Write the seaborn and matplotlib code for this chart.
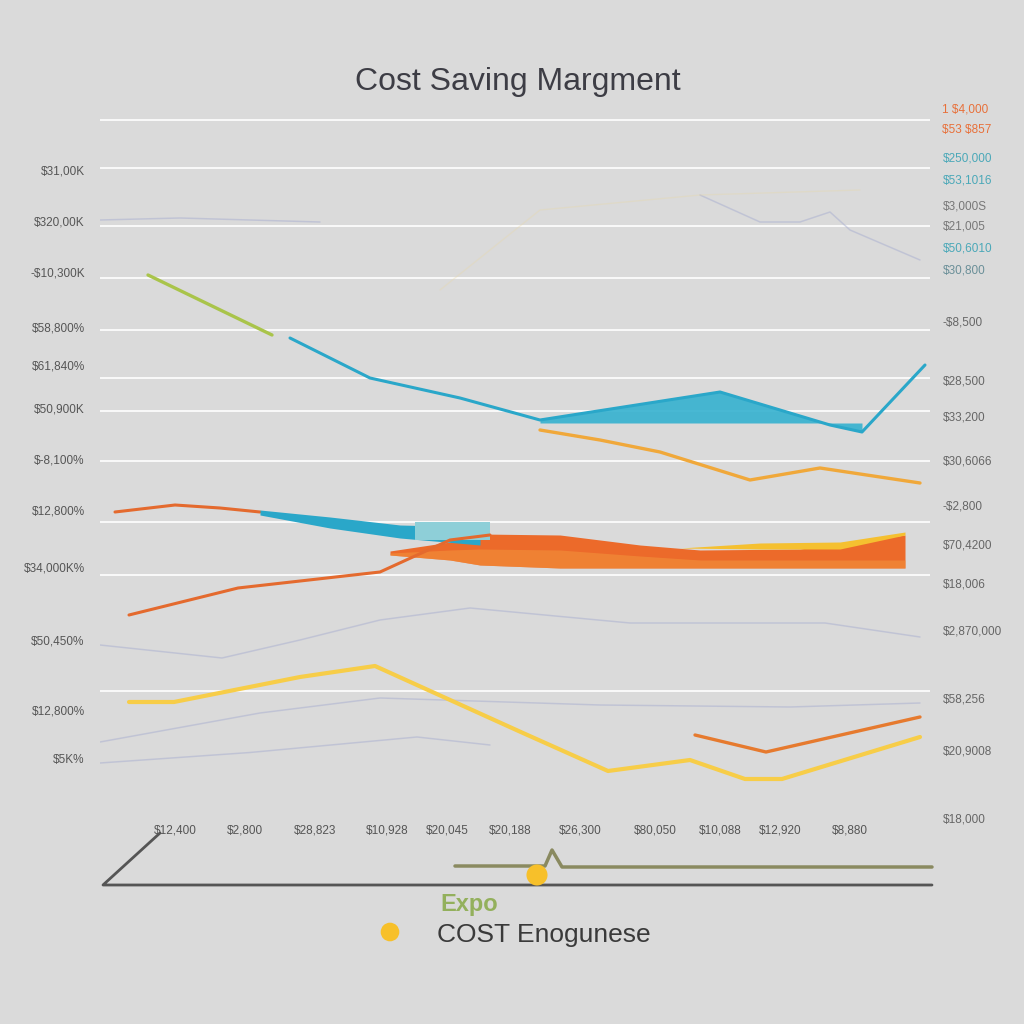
import numpy as np
import pandas as pd
import matplotlib
matplotlib.use("Agg")
import matplotlib.pyplot as plt
import seaborn as sns

# --- data ---
title = "Cost Saving Margment"

green_x = [4.8, 17.2]
green_y = [109, 97]

teal_x = [19, 27, 36, 44, 62, 73, 76.2, 82.5]
teal_y = [96.4, 88.4, 84.4, 80, 85.6, 79, 77.6, 91]
teal_fill_x = [44, 62, 73, 76.2]
teal_fill_top = [80, 85.6, 79, 77.6]
teal_fill_base = 79.4

amber_x = [44, 50, 56, 65, 72, 82]
amber_y = [78, 76, 73.6, 68, 70.4, 67.4]

orange_top_x = [1.5, 7.5, 12, 16]
orange_top_y = [61.6, 63, 62.4, 61.6]

teal_band_x = [16, 23, 30, 38]
teal_band_top = [62, 60.6, 59, 58.6]
teal_band_bot = [61, 58.4, 56.4, 55]
teal_box_x = [31.5, 39]
teal_box_top = [59.6, 59.6]
teal_box_bot = [56, 56]

band_x = [29, 35, 38, 46, 54, 60, 70, 80.5]
band_top = [53.8, 55.6, 57.2, 57, 55, 54, 54.2, 57]
band_mid = [53.4, 54, 54.2, 54, 52.8, 52, 52, 52]
band_bot = [53, 52, 51, 50.4, 50.4, 50.4, 50.4, 50.4]
gold_x = [58, 66, 74, 80.5]
gold_top = [54.4, 55.4, 55.6, 57.6]
gold_bot = [54.4, 54.2, 54.2, 57]

orange_low_x = [2.9, 13.8, 28, 35, 39]
orange_low_y = [41, 46.4, 49.6, 56, 57]

yellow_x = [2.9, 7.4, 20, 27.5, 42.3, 50.8, 59, 64.5, 68.2, 82]
yellow_y = [23.6, 23.6, 28.6, 30.8, 17.4, 9.8, 12, 8.2, 8.2, 16.6]

orange_short_x = [59.5, 66.6, 82]
orange_short_y = [17, 13.6, 20.6]

faint_a_x = [0, 12.2, 20, 28, 37, 53, 72.5, 82]
faint_a_y = [35, 32.4, 36, 40, 42.4, 39.4, 39.4, 36.6]
faint_b_x = [0, 16, 28, 50, 69, 82]
faint_b_y = [15.6, 21.4, 24.4, 23, 22.6, 23.4]
faint_c_x = [0, 15, 31.7, 39]
faint_c_y = [11.4, 13.5, 16.6, 15]
faint_d_x = [0, 8, 22]
faint_d_y = [120, 120.4, 119.6]
faint_e_x = [60, 66, 70, 73, 75, 82]
faint_e_y = [125, 119.6, 119.6, 121.6, 118, 112]
faint_f_x = [34, 44, 60, 76]
faint_f_y = [106, 122, 125, 126]

grid_y = [140, 130.4, 118.8, 108.4, 98, 88.4, 81.8, 71.8, 59.6, 49, 25.8]

left_ticks = [130, 119.8, 109.6, 98.6, 91, 82.4, 72.2, 62, 50.6, 36, 22, 12.4, 0]
left_labels = ["\\$31,00K", "\\$320,00K", "-\\$10,300K", "\\$58,800%", "\\$61,840%",
               "\\$50,900K", "\\$-8,100%", "\\$12,800%", "\\$34,000K%", "\\$50,450%",
               "\\$12,800%", "\\$5K%", ""]

right_ticks = [142.4, 138.2, 132.6, 128.2, 123, 119, 114.6, 110.2, 99.8, 88,
               80.8, 72, 63, 55.2, 47.4, 38, 24.4, 14, 0.4]
right_labels = ["1 \\$4,000", "\\$53 \\$857", "\\$250,000", "\\$53,1016", "\\$3,000S",
                "\\$21,005", "\\$50,6010", "\\$30,800", "-\\$8,500", "\\$28,500",
                "\\$33,200", "\\$30,6066", "-\\$2,800", "\\$70,4200", "\\$18,006",
                "\\$2,870,000", "\\$58,256", "\\$20,9008", "\\$18,000"]
right_colors = ["#e8703a", "#e8703a", "#4aa8b8", "#4aa8b8", "#777777",
                "#777777", "#4aa8b8", "#6a8f98"] + ["#666666"] * 11

bottom_ticks = [7.5, 14.5, 21.5, 28.7, 34.7, 41, 48, 55.5, 62, 68, 75]
bottom_labels = ["\\$12,400", "\\$2,800", "\\$28,823", "\\$10,928", "\\$20,045",
                 "\\$20,188", "\\$26,300", "\\$80,050", "\\$10,088", "\\$12,920", "\\$8,880"]

# decoration below the chart (figure pixel space)
base_px = [160, 103, 932]
base_py = [833, 885, 885]
olive_px = [455, 545, 552, 562, 932]
olive_py = [866, 866, 850, 867, 867]

sns.set_style("white")
plt.rcParams["font.family"] = ["Liberation Sans", "DejaVu Sans"]

bg = "#dadada"
fig = plt.figure(figsize=(10.24, 10.24), dpi=100, facecolor=bg)
ax = fig.add_axes([100 / 1024, 204 / 1024, 830 / 1024, 725 / 1024])
ax.set_facecolor("none")
ax.set_xlim(0, 83)
ax.set_ylim(0, 145)
sns.despine(ax=ax, left=True, bottom=True)

for g in grid_y:
    ax.axhline(g, color="white", lw=1.3, alpha=0.9, zorder=0)

def line(x, y, color, lw=2.2, alpha=1.0, z=3):
    sns.lineplot(x=x, y=y, ax=ax, color=color, lw=lw, alpha=alpha,
                 sort=False, estimator=None, zorder=z)

# faint background lines
faint = "#a8aed0"
for fx, fy in [(faint_a_x, faint_a_y), (faint_b_x, faint_b_y), (faint_c_x, faint_c_y),
               (faint_d_x, faint_d_y), (faint_e_x, faint_e_y)]:
    line(fx, fy, faint, lw=1.1, alpha=0.5, z=1)
line(faint_f_x, faint_f_y, "#e8d8a8", lw=1.0, alpha=0.35, z=1)

# upper series
line(green_x, green_y, "#a9c44a", lw=2.4)
line(teal_x, teal_y, "#2aa7c9", lw=2.2)
ax.fill_between(teal_fill_x, teal_fill_top, teal_fill_base, color="#35b1cf", alpha=0.9, lw=0, zorder=2)
line(amber_x, amber_y, "#f0a83a", lw=2.4)

# middle band
line(orange_top_x, orange_top_y, "#e46a2e", lw=2.2)
ax.fill_between(teal_band_x, teal_band_top, teal_band_bot, color="#2aa7c9", lw=0, zorder=3)
ax.fill_between(teal_box_x, teal_box_top, teal_box_bot, color="#8ecfd8", lw=0, zorder=3)
ax.fill_between(band_x, band_top, band_bot, color="#ec6a2a", lw=0, zorder=2)
ax.fill_between(band_x, band_mid, band_bot, color="#f2913a", alpha=0.6, lw=0, zorder=2)
ax.fill_between(gold_x, gold_top, gold_bot, color="#f5c030", lw=0, zorder=2)
line(orange_low_x, orange_low_y, "#e46a2e", lw=2.2)

# lower series
line(yellow_x, yellow_y, "#f7cd48", lw=3.0)
line(orange_short_x, orange_short_y, "#e67a2e", lw=2.4)

ax.set_xlabel("")
ax.set_ylabel("")
ax.set_yticks(left_ticks)
ax.set_yticklabels(left_labels, fontsize=8.5, color="#555555")
ax.set_xticks(bottom_ticks)
ax.set_xticklabels(bottom_labels, fontsize=8.5, color="#555555")
ax.tick_params(axis="both", length=0)
ax.tick_params(axis="y", pad=11)
ax.tick_params(axis="x", pad=3)

ax2 = ax.twinx()
ax2.set_ylim(0, 145)
ax2.set_yticks(right_ticks)
ax2.set_yticklabels(right_labels, fontsize=8.5)
for lab, c in zip(ax2.get_yticklabels(), right_colors):
    lab.set_color(c)
ax2.tick_params(axis="y", length=0, pad=9)
for s in ax2.spines.values():
    s.set_visible(False)

# title
fig.text(518 / 1024, 1 - 82 / 1024, title, ha="center", va="center",
         fontsize=23, color="#3d3d45")

# decoration + legend
deco = fig.add_axes([0, 0, 1, 1], facecolor="none")
deco.set_xlim(0, 1024)
deco.set_ylim(1024, 0)
deco.axis("off")
deco.plot(base_px, base_py, color="#555555", lw=2)
deco.plot(olive_px, olive_py, color="#8a8a60", lw=2.5)
deco.scatter([537], [875], s=230, color="#f7c02a", zorder=5, edgecolor="none")
deco.scatter([390], [932], s=180, color="#f7c02a", zorder=5, edgecolor="none")
deco.text(440, 905, "Expo", fontsize=17, color="#93b05c", va="center", ha="left", weight="bold")
deco.text(437, 935, "COST Enogunese", fontsize=19, color="#3a3a3a", va="center", ha="left")

fig.savefig("out.png", dpi=100, facecolor=bg)
